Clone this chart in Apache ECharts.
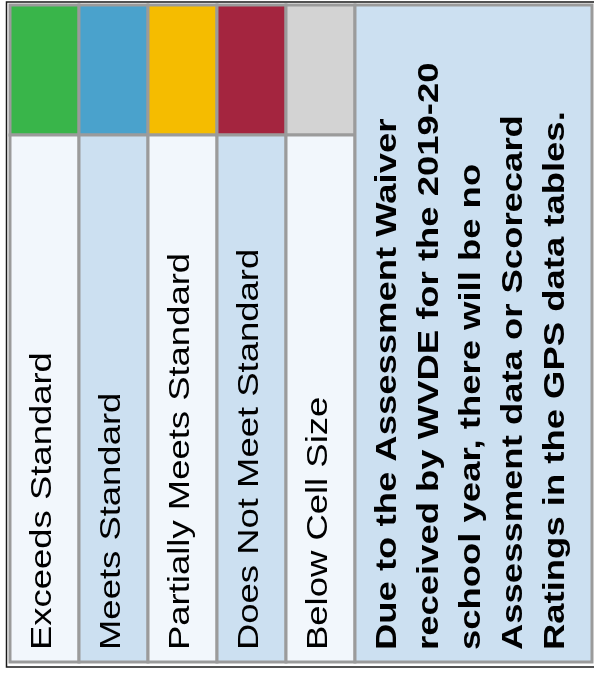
<!DOCTYPE html>
<html lang="en">
<head>
  <meta charset="UTF-8">
  <title>Scorecard legend</title>
  <script src="https://cdn.jsdelivr.net/npm/echarts@6/dist/echarts.min.js"></script>
  <style>
    html, body { margin: 0; padding: 0; background: #fff; }
    #legendTable { width: 594px; height: 675px; }
  </style>
</head>
<body>
<div id="legendTable"></div>

<script>
  // legend rows (rotated into columns)
  let ratingNames = ['Exceeds Standard', 'Meets Standard', 'Partially Meets Standard', 'Does Not Meet Standard', 'Below Cell Size'];
  let ratingColors = ['#39B54A', '#4AA2CC', '#F5BC00', '#A4253F', '#D3D3D3'];
  let noteLines = [
    'Due to the Assessment Waiver',
    'received by WVDE for the 2019-20',
    'school year, there will be no',
    'Assessment data or Scorecard',
    'Ratings in the GPS data tables.'
  ];

  // layout
  let noteSpan = 3.435;      // width of the note column, in rating columns
  let swatchShare = 0.198;   // part of the height used by the colour swatches
  let lineGray = '#9B9B9B';
  let cellLight = '#F2F7FC';
  let cellBlue = '#CCE0F1';
  let stretch = 1.215;       // the original text is drawn stretched along its length

  function textStyle(txt, bold) {
    return {
      text: txt,
      fill: '#000',
      fontFamily: '"Liberation Sans", Arial, sans-serif',
      fontSize: 30,
      fontWeight: bold ? 'bold' : 'normal',
      lineHeight: 42,
      align: 'left',
      verticalAlign: 'middle'
    };
  }

  function renderRating(params, api) {
    let i = api.value(0);
    let tl = api.coord([i, 0]);
    let mid = api.coord([i + 1, swatchShare]);
    let br = api.coord([i + 1, 1]);
    let w = mid[0] - tl[0];
    return {
      type: 'group',
      children: [
        {
          type: 'rect',
          shape: { x: tl[0], y: tl[1], width: w, height: mid[1] - tl[1] },
          style: { fill: ratingColors[i], stroke: lineGray, lineWidth: 3 }
        },
        {
          type: 'rect',
          shape: { x: tl[0], y: mid[1], width: w, height: br[1] - mid[1] },
          style: { fill: i % 2 ? cellBlue : cellLight, stroke: lineGray, lineWidth: 3 }
        },
        {
          type: 'text',
          x: tl[0] + w / 2 - 1.5,
          y: br[1] - 12,
          rotation: Math.PI / 2,
          scaleX: stretch,
          style: textStyle(ratingNames[i], false)
        }
      ]
    };
  }

  function renderNote(params, api) {
    let start = api.value(0);
    let tl = api.coord([start, 0]);
    let br = api.coord([start + noteSpan, 1]);
    let w = br[0] - tl[0];
    return {
      type: 'group',
      children: [
        {
          type: 'rect',
          shape: { x: tl[0], y: tl[1], width: w, height: br[1] - tl[1] },
          style: { fill: cellBlue, stroke: lineGray, lineWidth: 3 }
        },
        {
          type: 'text',
          x: tl[0] + w / 2 - 1.5,
          y: br[1] - 12,
          rotation: Math.PI / 2,
          scaleX: stretch,
          style: textStyle(noteLines.join('\n'), true)
        }
      ]
    };
  }

  let myChart = echarts.init(document.getElementById('legendTable'));
  let option = {
    animation: false,
    grid: { left: 10, right: 2, top: 5, bottom: 13 },
    xAxis: { type: 'value', min: 0, max: ratingNames.length + noteSpan, show: false },
    yAxis: { type: 'value', min: 0, max: 1, inverse: true, show: false },
    graphic: [
      {
        type: 'rect',
        shape: { x: 6.5, y: 2, width: 620, height: 665 },
        style: { fill: 'none', stroke: '#1A1A1A', lineWidth: 1.5 },
        silent: true
      }
    ],
    series: [
      {
        type: 'custom',
        clip: false,
        renderItem: renderRating,
        data: ratingNames.map((n, i) => [i])
      },
      {
        type: 'custom',
        clip: false,
        renderItem: renderNote,
        data: [[ratingNames.length]]
      }
    ]
  };
  myChart.setOption(option, true);
  window.addEventListener('resize', function () {
    myChart.resize();
  });
</script>
</body>
</html>
